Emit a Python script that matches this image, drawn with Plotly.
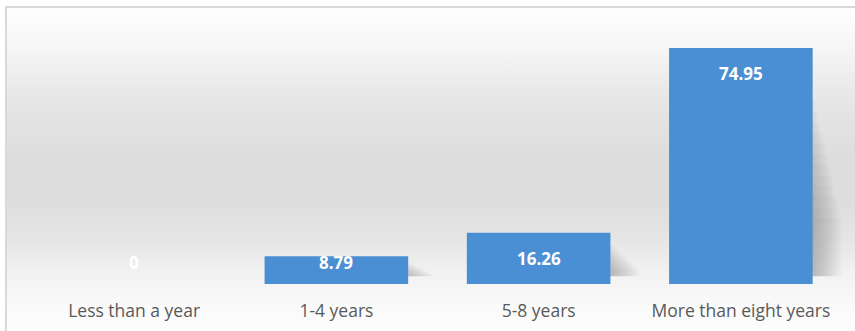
import plotly.graph_objects as go
import base64

categories = ["Less than a year", "1-4 years", "5-8 years", "More than eight years"]
values = [0, 8.79, 16.26, 74.95]
value_labels = ["0", "8.79", "16.26", "74.95"]

W, H = 855, 331
ML, MR, MT, MB = 33, 13, 32, 47
PW = W - ML - MR
PH = H - MT - MB
YMAX = 80
BAR_W = 0.71

# background gradient (white -> gray -> white)
svg = (
    '<svg xmlns="http://www.w3.org/2000/svg" width="100" height="324" preserveAspectRatio="none">'
    '<defs><linearGradient id="g" x1="0" y1="0" x2="0" y2="1">'
    '<stop offset="0" stop-color="#fefefe"/>'
    '<stop offset="0.13" stop-color="#f5f5f5"/>'
    '<stop offset="0.29" stop-color="#e6e6e6"/>'
    '<stop offset="0.45" stop-color="#dddddd"/>'
    '<stop offset="0.6" stop-color="#dddddd"/>'
    '<stop offset="0.72" stop-color="#e6e6e6"/>'
    '<stop offset="0.82" stop-color="#f2f2f2"/>'
    '<stop offset="0.92" stop-color="#fafafa"/>'
    '<stop offset="1" stop-color="#fdfdfd"/>'
    '</linearGradient></defs>'
    '<rect width="100" height="324" fill="url(#g)"/></svg>'
)
bg_src = "data:image/svg+xml;base64," + base64.b64encode(svg.encode()).decode()

def px_to_paper_x(px):
    return (px - ML) / PW

def px_to_paper_y(py):
    return (H - MB - py) / PH

fig = go.Figure()

# soft shadow layers (derived from the data values)
N_SH = 12
left = -BAR_W / 2 + 0.05
for k in range(1, N_SH + 1):
    right = BAR_W / 2 + 0.012 * k
    fig.add_trace(go.Bar(
        x=categories,
        y=[max(v * (0.82 - 0.045 * k) - 2.5, 0) for v in values],
        base=[2.5] * len(values),
        width=right - left,
        offset=left,
        marker=dict(color="rgba(0,0,0,0.018)", line=dict(width=0)),
        hoverinfo="skip",
    ))

fig.add_trace(go.Bar(
    x=categories, y=values,
    width=BAR_W, offset=-BAR_W / 2,
    marker=dict(color="#4a8fd3", line=dict(width=0)),
    hoverinfo="skip",
))

annotations = []
for c, v, t in zip(categories, values, value_labels):
    lab_font = dict(family="Open Sans", size=17, color="white", weight="bold")
    if v >= 16:
        annotations.append(dict(x=c, y=v, text=t, showarrow=False, yshift=-26,
                                font=lab_font, xref="x", yref="y"))
    else:
        annotations.append(dict(x=c, y=0, text=t, showarrow=False, yshift=22,
                                font=lab_font, xref="x", yref="y"))

x0, x1 = px_to_paper_x(6), px_to_paper_x(W + 2)
y0, y1 = px_to_paper_y(H + 2), px_to_paper_y(7)

fig.update_layout(
    width=W, height=H,
    margin=dict(l=ML, r=MR, t=MT, b=MB),
    paper_bgcolor="white",
    plot_bgcolor="rgba(0,0,0,0)",
    barmode="overlay",
    showlegend=False,
    images=[dict(source=bg_src, xref="paper", yref="paper", x=x0, y=y1,
                 sizex=x1 - x0, sizey=y1 - y0, xanchor="left", yanchor="top",
                 sizing="stretch", layer="below")],
    shapes=[dict(type="rect", xref="paper", yref="paper", x0=x0, x1=x1 + 0.01,
                 y0=y0 - 0.02, y1=y1, line=dict(color="#d9d9d9", width=2),
                 fillcolor="rgba(0,0,0,0)", layer="below")],
    annotations=annotations,
    xaxis=dict(showgrid=False, zeroline=False, showline=False, automargin=False,
               range=[-0.5, 3.5],
               ticks="outside", ticklen=11, tickcolor="rgba(0,0,0,0)",
               tickfont=dict(family="Open Sans", size=17.5, color="#595959"),
               fixedrange=True),
    yaxis=dict(range=[0, YMAX], showgrid=False, zeroline=False, showline=False,
               showticklabels=False, automargin=False, fixedrange=True),
)

fig.write_html("out.html", config={"displayModeBar": False})
